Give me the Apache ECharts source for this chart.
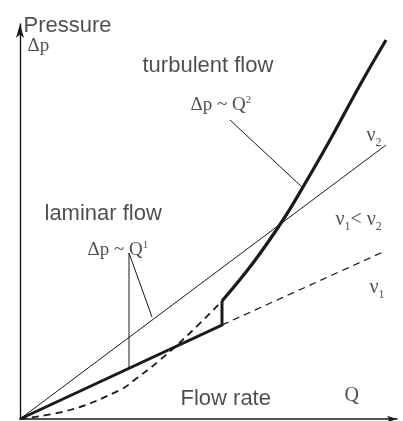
<!DOCTYPE html>
<html>
<head>
<meta charset="utf-8">
<script src="https://cdn.jsdelivr.net/npm/echarts@6/dist/echarts.min.js"></script>
<style>html,body{margin:0;padding:0;background:#fff;}#c{width:403px;height:421px;}</style>
</head>
<body>
<div id="c"></div>
<script>
// Values (x = flow rate Q, y = pressure Δp, arbitrary units)
const nu2Line = [[0, 0], [366, 274]];
const laminarThick = [[0, 0], [202, 94], [202, 118]];
const turbulentCurve = [[202, 118], [233, 156], [263, 199], [283, 232], [310, 279], [340, 334], [366, 379]];
const parabolaDashed = [[0, 0], [50, 9], [100, 29], [117, 41], [140, 59], [170, 86], [202, 118]];
const nu1Dashed = [[202, 94], [363, 167]];
const leaderQ2 = [[210, 299], [283, 231]];
const leaderQ1a = [[109, 166], [109, 52]];
const leaderQ1b = [[109, 166], [132, 102]];

const labelTexts = ['{sans|Pressure}', '{serif|Δp}', '{sans|turbulent flow}', '{serif|Δp ~ Q}{sup|2}',
  '{sans|laminar flow}', '{serif|Δp ~ Q}{sup|1}', '{nu|ν}{sub|2}', '{nu|ν}{sub|1}{nu|< ν}{sub|2}',
  '{nu|ν}{sub|1}', '{sans|Flow rate}', '{serifL|Q}'];
const labelX = [4, 8, 123, 171, 25, 68, 347, 316, 350, 161, 325];
const labelY = [393, 372, 353, 313, 205, 168, 283, 199, 131, 20, 23];

const INK = '#1a1a1a';
const TXT = '#231f20';
const SANS = '"Liberation Sans", Arial, sans-serif';
const SERIF = '"Liberation Serif", "Times New Roman", serif';

function lineSeries(data, width, opts) {
  return Object.assign({
    type: 'line', data: data, symbol: 'none', silent: true,
    lineStyle: { color: INK, width: width }, animation: false
  }, opts || {});
}

const chart = echarts.init(document.getElementById('c'), null, { renderer: 'canvas' });
chart.setOption({
  backgroundColor: '#fff',
  animation: false,
  grid: { left: 20, right: 6, top: 24, bottom: 2, containLabel: false },
  xAxis: {
    type: 'value', min: 0, max: 377,
    axisLine: { show: true, lineStyle: { color: INK, width: 1.6 }, symbol: ['none', 'arrow'], symbolSize: [5, 10] },
    axisTick: { show: false }, axisLabel: { show: false }, splitLine: { show: false }
  },
  yAxis: {
    type: 'value', min: 0, max: 395,
    axisLine: { show: true, lineStyle: { color: INK, width: 1.4 }, symbol: ['none', 'arrow'], symbolSize: [6, 14] },
    axisTick: { show: false }, axisLabel: { show: false }, splitLine: { show: false }
  },
  series: [
    lineSeries(nu2Line, 1),
    lineSeries(leaderQ2, 1),
    lineSeries(leaderQ1a, 1),
    lineSeries(leaderQ1b, 1),
    lineSeries(nu1Dashed, 1.2, { lineStyle: { color: INK, width: 1.2, type: [7, 5] } }),
    lineSeries(parabolaDashed, 1.8, { smooth: 0.4, lineStyle: { color: INK, width: 1.8, type: [7, 5] } }),
    lineSeries(laminarThick, 3, { lineStyle: { color: INK, width: 3, join: 'miter' } }),
    lineSeries(turbulentCurve, 3.2, { smooth: 0.4 }),
    {
      type: 'scatter', silent: true, animation: false,
      symbolSize: 1, itemStyle: { color: 'rgba(0,0,0,0)' },
      data: labelX.map((x, i) => ({ value: [x, labelY[i]], name: labelTexts[i] })),
      label: {
        show: true, position: [0, 0], align: 'left', verticalAlign: 'middle',
        formatter: p => p.name, color: TXT,
        rich: {
          sans: { fontFamily: SANS, fontSize: 22, color: TXT },
          serif: { fontFamily: SERIF, fontSize: 19, color: TXT, lineHeight: 22 },
          serifL: { fontFamily: SERIF, fontSize: 20, color: TXT },
          sup: { fontFamily: SERIF, fontSize: 11, color: TXT, verticalAlign: 'top', lineHeight: 22 },
          nu: { fontFamily: SERIF, fontSize: 20, color: TXT, lineHeight: 26 },
          sub: { fontFamily: SERIF, fontSize: 12, color: TXT, verticalAlign: 'bottom', lineHeight: 26 }
        }
      }
    }
  ]
});
</script>
</body>
</html>
